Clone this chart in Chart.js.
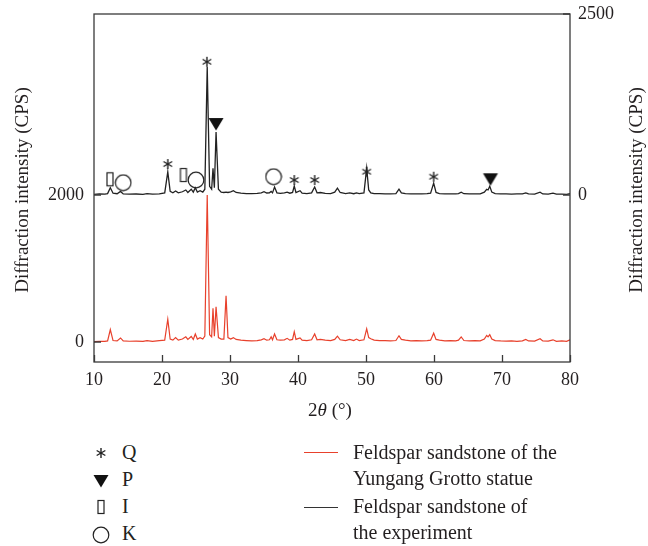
<!DOCTYPE html>
<html>
<head>
<meta charset="utf-8">
<script src="https://cdn.jsdelivr.net/npm/chart.js@4.4.1/dist/chart.umd.min.js"></script>
<style>
  body { margin: 0; background: #fff; }
  #wrap { position: relative; width: 648px; height: 546px; font-family: "Liberation Serif", "DejaVu Serif", serif; color: #231f20; }
  #chartBox { position: absolute; left: 0; top: 0; width: 648px; height: 400px; }
  .ytitle { position: absolute; width: 320px; height: 24px; line-height: 24px; text-align: center; font-size: 19px; transform: rotate(-90deg); white-space: nowrap; }
  .lg { position: absolute; font-size: 20px; line-height: 24px; white-space: nowrap; }
  .icon { position: absolute; }
  .lgline { position: absolute; height: 0; width: 34px; border-top: 1.3px solid; }
</style>
</head>
<body>
<div id="wrap">
  <div id="chartBox"><canvas id="xrdChart"></canvas></div>
  <div class="ytitle" style="left:-138px; top:178px;">Diffraction intensity (CPS)</div>
  <div class="ytitle" style="left:476px; top:178px;">Diffraction intensity (CPS)</div>
  <div class="lg" style="left:280px; top:398px; width:100px; text-align:center; font-size:19px;">2<i>θ</i> (°)</div>

  <div class="lg" style="left:122px; top:440px;">Q</div>
  <div class="lg" style="left:122px; top:467px;">P</div>
  <div class="lg" style="left:122px; top:494px;">I</div>
  <div class="lg" style="left:122px; top:521px;">K</div>

  <div class="lgline" style="left:304px; top:452px; border-color:#e8412c;"></div>
  <div class="lgline" style="left:304px; top:507px; border-color:#333;"></div>
  <div class="lg" style="left:353px; top:440px;">Feldspar sandstone of the</div>
  <div class="lg" style="left:353px; top:466px;">Yungang Grotto statue</div>
  <div class="lg" style="left:353px; top:494px;">Feldspar sandstone of</div>
  <div class="lg" style="left:353px; top:520px;">the experiment</div>
</div>
<script>
// 2theta positions shared by both patterns
const twoTheta = [
  10.0, 10.8, 11.6, 12.0, 12.4, 12.8, 13.4, 13.9, 14.3, 15.2, 16.2, 17.2, 17.8, 18.6, 19.6,
  20.4, 20.85, 21.2, 21.6, 22.0, 22.4, 23.0, 23.5, 23.8, 24.3, 24.6, 24.9, 25.2, 25.6, 26.0,
  26.3, 26.65, 27.0, 27.3, 27.5, 27.7, 27.95, 28.3, 28.7, 29.1, 29.42, 29.7, 30.1, 30.5, 30.9,
  31.6, 32.4, 33.2, 34.0, 34.6, 35.0, 35.4, 35.8, 36.05, 36.25, 36.55, 36.9, 37.4, 38.0, 38.4,
  38.8, 39.2, 39.45, 39.7, 40.3, 40.6, 41.3, 42.0, 42.45, 42.8, 43.3, 44.0, 44.8, 45.4, 45.8,
  46.2, 47.0, 47.6, 48.2, 48.6, 49.0, 49.7, 50.1, 50.4, 50.7, 51.2, 52.0, 52.8, 53.6, 54.4,
  54.85, 55.2, 55.8, 56.6, 57.4, 58.2, 59.0, 59.5, 59.95, 60.3, 60.8, 61.6, 62.4, 63.2, 63.6,
  64.0, 64.4, 65.2, 66.0, 66.8, 67.4, 67.75, 67.95, 68.2, 68.5, 69.0, 69.8, 70.6, 71.4, 72.2,
  73.0, 73.5, 73.9, 74.8, 75.6, 76.0, 76.8, 77.5, 78.0, 78.8, 79.5, 80.0
];

// Yungang Grotto statue sample (left axis)
const statueCounts = [
  5, 10, 8, 15, 170, 20, 15, 55, 15, 10, 12, 8, 20, 10, 18,
  25, 310, 40, 25, 60, 25, 40, 70, 35, 75, 35, 110, 40, 60, 40,
  80, 2000, 100, 70, 460, 80, 480, 60, 40, 40, 630, 60, 40, 60, 35,
  25, 20, 15, 20, 30, 45, 25, 30, 70, 30, 110, 30, 25, 30, 50,
  25, 35, 140, 35, 55, 25, 20, 30, 110, 30, 35, 25, 20, 35, 80,
  30, 20, 35, 20, 40, 20, 30, 180, 60, 45, 25, 20, 18, 15, 20,
  85, 35, 25, 15, 20, 15, 20, 25, 120, 35, 25, 15, 20, 15, 25,
  70, 20, 15, 20, 15, 40, 90, 70, 100, 40, 20, 15, 12, 15, 10,
  15, 35, 15, 12, 45, 15, 12, 30, 10, 15, 10, 30
];

// experiment sample (right axis)
const experimentCounts = [
  10, 15, 12, 20, 100, 25, 18, 50, 15, 12, 14, 10, 18, 12, 15,
  30, 320, 50, 30, 55, 30, 45, 70, 35, 80, 40, 100, 40, 60, 40,
  80, 1770, 120, 80, 370, 100, 870, 80, 40, 35, 40, 35, 45, 60, 35,
  25, 20, 18, 22, 30, 45, 28, 30, 50, 30, 110, 30, 22, 30, 40,
  25, 35, 125, 35, 60, 25, 20, 30, 110, 30, 35, 22, 20, 40, 95,
  35, 20, 30, 18, 30, 20, 30, 370, 70, 30, 20, 18, 15, 15, 20,
  80, 30, 20, 15, 15, 15, 18, 25, 165, 35, 20, 15, 15, 15, 20,
  40, 18, 15, 15, 15, 40, 80, 70, 120, 40, 20, 15, 15, 12, 15,
  15, 30, 15, 12, 40, 15, 12, 25, 12, 12, 10, 20
];

// phase marks on the experiment pattern (right axis units)
const quartzX = [20.85, 26.6, 39.45, 42.45, 50.1, 59.95];
const quartzY = [428, 1840, 207, 207, 322, 253];
const plagioX = [27.95, 68.3];
const plagioY = [980, 217];
const illiteX = [12.35, 23.15];
const illiteY = [217, 276];
const kaolinX = [14.3, 25.0, 36.4];
const kaolinY = [170, 207, 253];

const xTicks = [10, 20, 30, 40, 50, 60, 70, 80];
const leftTicks = [0, 2000];
const rightTicks = [0, 2500];

const redColor = '#e8412c';
const inkColor = '#222222';

function makeMarker(kind) {
  const c = document.createElement('canvas');
  c.width = 18; c.height = 18;
  const g = c.getContext('2d');
  g.strokeStyle = '#222';
  g.fillStyle = '#111';
  g.lineWidth = 1.4;
  if (kind === 'star') {
    for (let a = 0; a < 3; a++) {
      const ang = Math.PI / 2 + a * Math.PI / 3;
      g.beginPath();
      g.moveTo(9 - 5 * Math.cos(ang), 9 - 5 * Math.sin(ang));
      g.lineTo(9 + 5 * Math.cos(ang), 9 + 5 * Math.sin(ang));
      g.stroke();
    }
  } else if (kind === 'tri') {
    g.beginPath();
    g.moveTo(1.5, 3); g.lineTo(16.5, 3); g.lineTo(9, 15.5);
    g.closePath(); g.fill();
  } else if (kind === 'rect') {
    g.lineWidth = 1.2;
    g.strokeRect(6, 2.5, 6, 13);
  } else if (kind === 'circle') {
    g.lineWidth = 1.2;
    g.beginPath(); g.arc(9, 9, 7.8, 0, Math.PI * 2); g.stroke();
  }
  return c;
}

// legend symbols
[['star', 453], ['tri', 481], ['rect', 507], ['circle', 535]].forEach(([k, y]) => {
  const m = makeMarker(k);
  m.className = 'icon';
  m.style.left = (101 - 9) + 'px';
  m.style.top = (y - 9) + 'px';
  document.getElementById('wrap').appendChild(m);
});

function pts(xs, ys) {
  return xs.map((x, i) => ({ x: x, y: ys[i] }));
}

function markSet(xs, ys, kind) {
  return {
    data: pts(xs, ys),
    yAxisID: 'y2',
    showLine: false,
    pointStyle: makeMarker(kind),
    pointRadius: 6,
    pointHoverRadius: 6
  };
}

// frame and inward tick marks
const frameTicks = {
  id: 'frameTicks',
  afterDatasetsDraw(chart) {
    const { ctx, chartArea: a, scales } = chart;
    ctx.save();
    ctx.strokeStyle = '#3a3a3a';
    ctx.lineWidth = 1.3;
    ctx.strokeRect(a.left, a.top, a.right - a.left, a.bottom - a.top);
    ctx.beginPath();
    xTicks.forEach(v => {
      const px = Math.round(scales.x.getPixelForValue(v)) + 0.5;
      ctx.moveTo(px, a.bottom); ctx.lineTo(px, a.bottom - 7);
    });
    leftTicks.forEach(v => {
      const py = scales.y.getPixelForValue(v);
      ctx.moveTo(a.left, py); ctx.lineTo(a.left + 7, py);
    });
    rightTicks.forEach(v => {
      const py = scales.y2.getPixelForValue(v);
      ctx.moveTo(a.right, py); ctx.lineTo(a.right - 7, py);
    });
    ctx.stroke();
    ctx.restore();
  }
};

const tickFont = { family: '"Liberation Serif", serif', size: 18 };
const plainLabel = v => String(v);

new Chart(document.getElementById('xrdChart').getContext('2d'), {
  type: 'line',
  data: {
    datasets: [
      {
        label: 'Feldspar sandstone of the Yungang Grotto statue',
        data: pts(twoTheta, statueCounts),
        yAxisID: 'y',
        borderColor: redColor,
        borderWidth: 1.2,
        pointRadius: 0,
        tension: 0
      },
      {
        label: 'Feldspar sandstone of the experiment',
        data: pts(twoTheta, experimentCounts),
        yAxisID: 'y2',
        borderColor: inkColor,
        borderWidth: 1.3,
        pointRadius: 0,
        tension: 0
      },
      markSet(quartzX, quartzY, 'star'),
      markSet(plagioX, plagioY, 'tri'),
      markSet(illiteX, illiteY, 'rect'),
      markSet(kaolinX, kaolinY, 'circle')
    ]
  },
  options: {
    responsive: true,
    maintainAspectRatio: false,
    animation: false,
    events: [],
    layout: { padding: { top: 14, left: 0, right: 0, bottom: 0 } },
    plugins: {
      legend: { display: false },
      tooltip: { enabled: false }
    },
    scales: {
      x: {
        type: 'linear',
        position: 'bottom',
        min: 10,
        max: 80,
        grid: { display: false, drawTicks: false },
        border: { display: false },
        afterBuildTicks: s => { s.ticks = xTicks.map(v => ({ value: v })); },
        afterFit: s => { s.height = 38; s.paddingLeft = 0; s.paddingRight = 0; },
        ticks: { color: '#231f20', font: tickFont, padding: 7, maxRotation: 0, callback: plainLabel }
      },
      y: {
        position: 'left',
        min: -272,
        max: 4463,
        grid: { display: false, drawTicks: false },
        border: { display: false },
        afterBuildTicks: s => { s.ticks = leftTicks.map(v => ({ value: v })); },
        afterFit: s => { s.width = 94; s.paddingTop = 0; s.paddingBottom = 0; },
        ticks: { color: '#231f20', font: tickFont, padding: 10, callback: plainLabel }
      },
      y2: {
        position: 'right',
        min: -2306,
        max: 2500,
        grid: { display: false, drawTicks: false },
        border: { display: false },
        afterBuildTicks: s => { s.ticks = rightTicks.map(v => ({ value: v })); },
        afterFit: s => { s.width = 78; s.paddingTop = 0; s.paddingBottom = 0; },
        ticks: { color: '#231f20', font: tickFont, padding: 8, callback: plainLabel }
      }
    }
  },
  plugins: [frameTicks]
});
</script>
</body>
</html>
